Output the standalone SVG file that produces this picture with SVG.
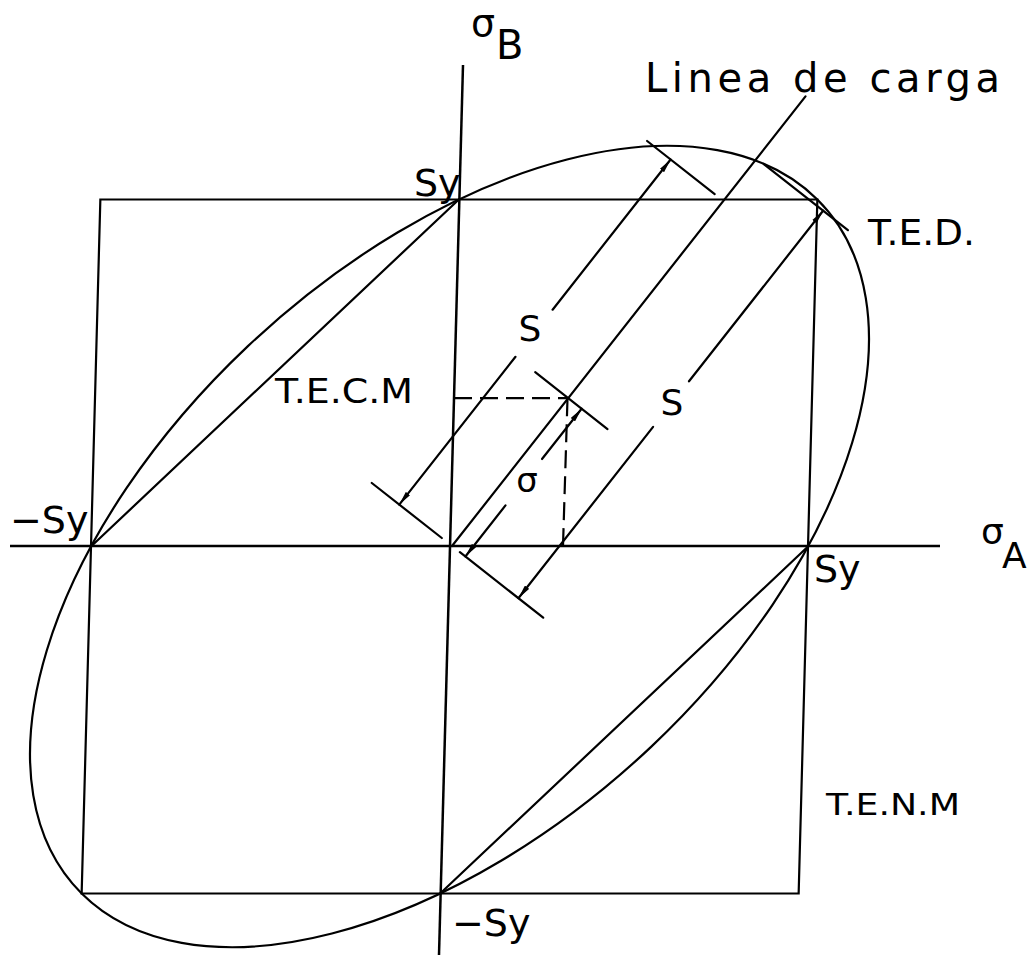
<svg xmlns="http://www.w3.org/2000/svg" width="1029" height="967" viewBox="0 0 1029 967">
<style>
.ln{fill:none;stroke:#000;stroke-width:2.2;stroke-linecap:round}
.ax{fill:none;stroke:#000;stroke-width:2.5}
.ns{vector-effect:non-scaling-stroke}
.da{fill:none;stroke:#000;stroke-width:2.2;stroke-dasharray:18 8}
.tx{font-family:"DejaVu Sans","Liberation Sans",sans-serif;fill:#000}
</style>
<defs>
<marker id="ah" viewBox="0 0 14 6" refX="14" refY="3" markerWidth="14" markerHeight="6" markerUnits="userSpaceOnUse" orient="auto-start-reverse">
<path d="M0,0.3 L14,3 L0,5.7 z" fill="#000"/>
</marker>
</defs>
<rect width="1029" height="967" fill="#fff"/>
<g id="axes">
<line class="ax" x1="10" y1="546" x2="940" y2="546"/>
<line class="ax" x1="463" y1="65" x2="439" y2="955"/>
</g>
<g id="criteria" transform="matrix(358.5 0 9.35 -347 449.5 546.5)">
<polygon class="ln ns" points="-1,1 1,1 1,-1 -1,-1"/>
<ellipse class="ln ns" cx="0" cy="0" rx="1.41421" ry="0.81650" transform="rotate(45)"/>
<line class="ln ns" x1="0" y1="1" x2="-1" y2="0"/>
<line class="ln ns" x1="1" y1="0" x2="0" y2="-1"/>
</g>
<g id="connectors">
<line class="ln" x1="452" y1="546" x2="805.5" y2="96.4"/>
<line class="da" x1="454" y1="398.2" x2="568.2" y2="398.2"/>
<line class="da" x1="567.5" y1="398.2" x2="563" y2="546"/>
<line class="ln" x1="535.2" y1="372.2" x2="607.5" y2="429.1"/>
<line class="ln" x1="459.9" y1="552.2" x2="543.2" y2="617.7"/>
<line class="ln" x1="441.8" y1="538" x2="371.8" y2="483"/>
<line class="ln" x1="647.1" y1="141" x2="714.7" y2="194.1"/>
<line class="ln" x1="763.8" y1="164.1" x2="847.9" y2="230.2"/>
<line class="ln" x1="465.4" y1="556.5" x2="505.5" y2="505.4" marker-start="url(#ah)"/>
<line class="ln" x1="542" y1="459" x2="581.6" y2="408.7" marker-end="url(#ah)"/>
<line class="ln" x1="518.4" y1="598.2" x2="653.1" y2="426.9" marker-start="url(#ah)"/>
<line class="ln" x1="689" y1="381.3" x2="823.1" y2="210.7" marker-end="url(#ah)"/>
<line class="ln" x1="399.3" y1="504.6" x2="515.5" y2="356.8" marker-start="url(#ah)"/>
<line class="ln" x1="552.6" y1="309.7" x2="670.6" y2="159.5" marker-end="url(#ah)"/>
</g>
<g id="labels">
<g id="sigmaB"><text class="tx" x="471" y="36" font-size="38">σ</text><text class="tx" x="496" y="59" font-size="40">B</text></g>
<g id="sigmaA"><text class="tx" x="981" y="544" font-size="36">σ</text><text class="tx" x="1002" y="568" font-size="36">A</text></g>
<text id="lineaCarga" class="tx" x="645" y="92" font-size="40" textLength="355" lengthAdjust="spacing">Linea de carga</text>
<text id="ted" class="tx" x="868" y="245" font-size="36" textLength="107" lengthAdjust="spacingAndGlyphs">T.E.D.</text>
<text id="tecm" class="tx" x="275" y="403" font-size="34" textLength="138" lengthAdjust="spacingAndGlyphs">T.E.C.M</text>
<text id="tenm" class="tx" x="826" y="815" font-size="31" textLength="134" lengthAdjust="spacingAndGlyphs">T.E.N.M</text>
<text id="syTop" class="tx" x="414" y="196" font-size="38">Sy</text>
<text id="syLeft" class="tx" x="10" y="533" font-size="38">−Sy</text>
<text id="syRight" class="tx" x="814" y="582" font-size="38">Sy</text>
<text id="syBottom" class="tx" x="452" y="936" font-size="38">−Sy</text>
<text id="sUpper" class="tx" x="530" y="341" font-size="36" text-anchor="middle">S</text>
<text id="sRight" class="tx" x="672" y="415" font-size="36" text-anchor="middle">S</text>
<text id="sigma" class="tx" x="527" y="492" font-size="34" text-anchor="middle">σ</text>
</g>
</svg>
